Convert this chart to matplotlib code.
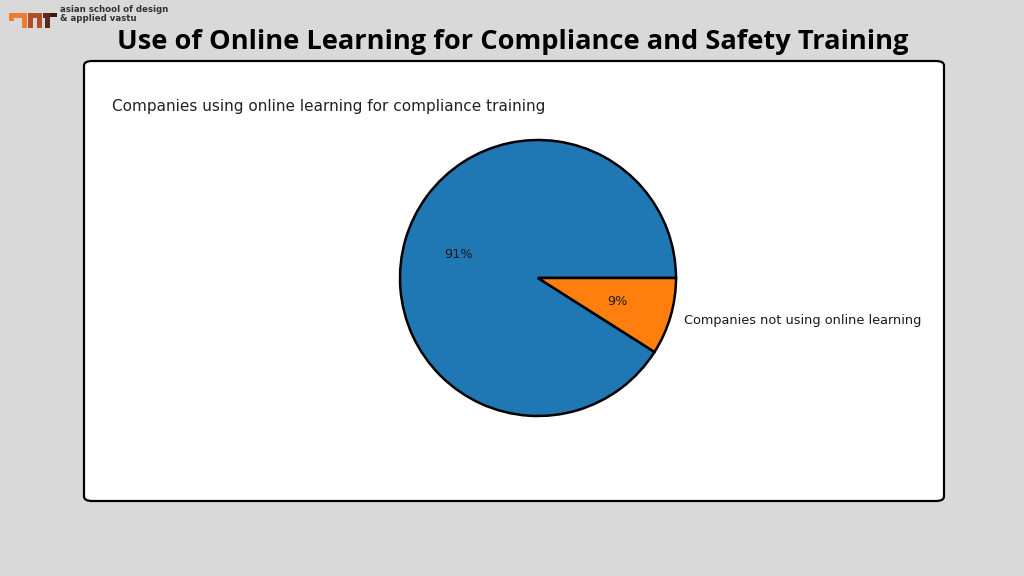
import numpy as np
import matplotlib
matplotlib.use("Agg")
import matplotlib.pyplot as plt
from matplotlib.patches import FancyBboxPatch, Polygon

W, H = 1024, 576

labels = ["Companies using online learning for compliance training",
          "Companies not using online learning"]
shares = [91, 9]
colors = ["#1f77b4", "#ff7f0e"]
title = "Use of Online Learning for Compliance and Safety Training"


def fx(x):
    return x / W


def fy(y):
    return 1 - y / H


fig = plt.figure(figsize=(W / 100, H / 100), dpi=100, facecolor="#d9d9d9")

# white card, behind the pie
card = FancyBboxPatch((fx(84), fy(501)), fx(860), (501 - 61) / H,
                      boxstyle="round,pad=0,rounding_size=0.008",
                      transform=fig.transFigure, facecolor="white",
                      edgecolor="black", linewidth=1.6, zorder=-5)
fig.patches.append(card)

fig.text(fx(513), fy(42), title, ha="center", va="center",
         fontsize=19.6, fontweight="bold", family="Open Sans", color="black")

# logo
logo_shapes = [
    ([(9, 13), (27, 13), (27, 28), (22, 28), (22, 18), (14, 18), (14, 21), (9, 21)], "#ee7d33"),
    ([(28, 13), (42, 13), (42, 28), (37, 28), (37, 18), (33, 18), (33, 28), (28, 28)], "#b0502a"),
    ([(43, 13), (50, 13), (50, 28), (45, 28), (45, 18), (43, 18)], "#5a2a1a"),
    ([(50, 13), (57, 13), (57, 17), (50, 17)], "#3a1a10"),
]
for pts, c in logo_shapes:
    fig.patches.append(Polygon([(fx(x), fy(y)) for x, y in pts], closed=True,
                               transform=fig.transFigure, facecolor=c, edgecolor="none"))
fig.text(fx(60), fy(14), "asian school of design\n& applied vastu", ha="left", va="center",
         fontsize=6.2, fontweight="bold", color="#333333", linespacing=1.1)

# pie
cx, cy, r, k = 538, 278, 138, 1.2
half = r * k
ax = fig.add_axes([fx(cx - half), fy(cy + half), 2 * half / W, 2 * half / H])
ax.pie(shares, labels=["", labels[1]], colors=colors, autopct="%1.0f%%",
       wedgeprops={"edgecolor": "black", "linewidth": 1.8},
       textprops={"fontsize": 9.3, "color": "#1a1a1a"})
ax.set_xlim(-k, k)
ax.set_ylim(-k, k)
ax.set_aspect("equal")
ax.axis("off")

fig.text(fx(112), fy(107), labels[0], ha="left", va="center", fontsize=11, color="#222222")

fig.savefig("out.png", dpi=100, facecolor=fig.get_facecolor())
